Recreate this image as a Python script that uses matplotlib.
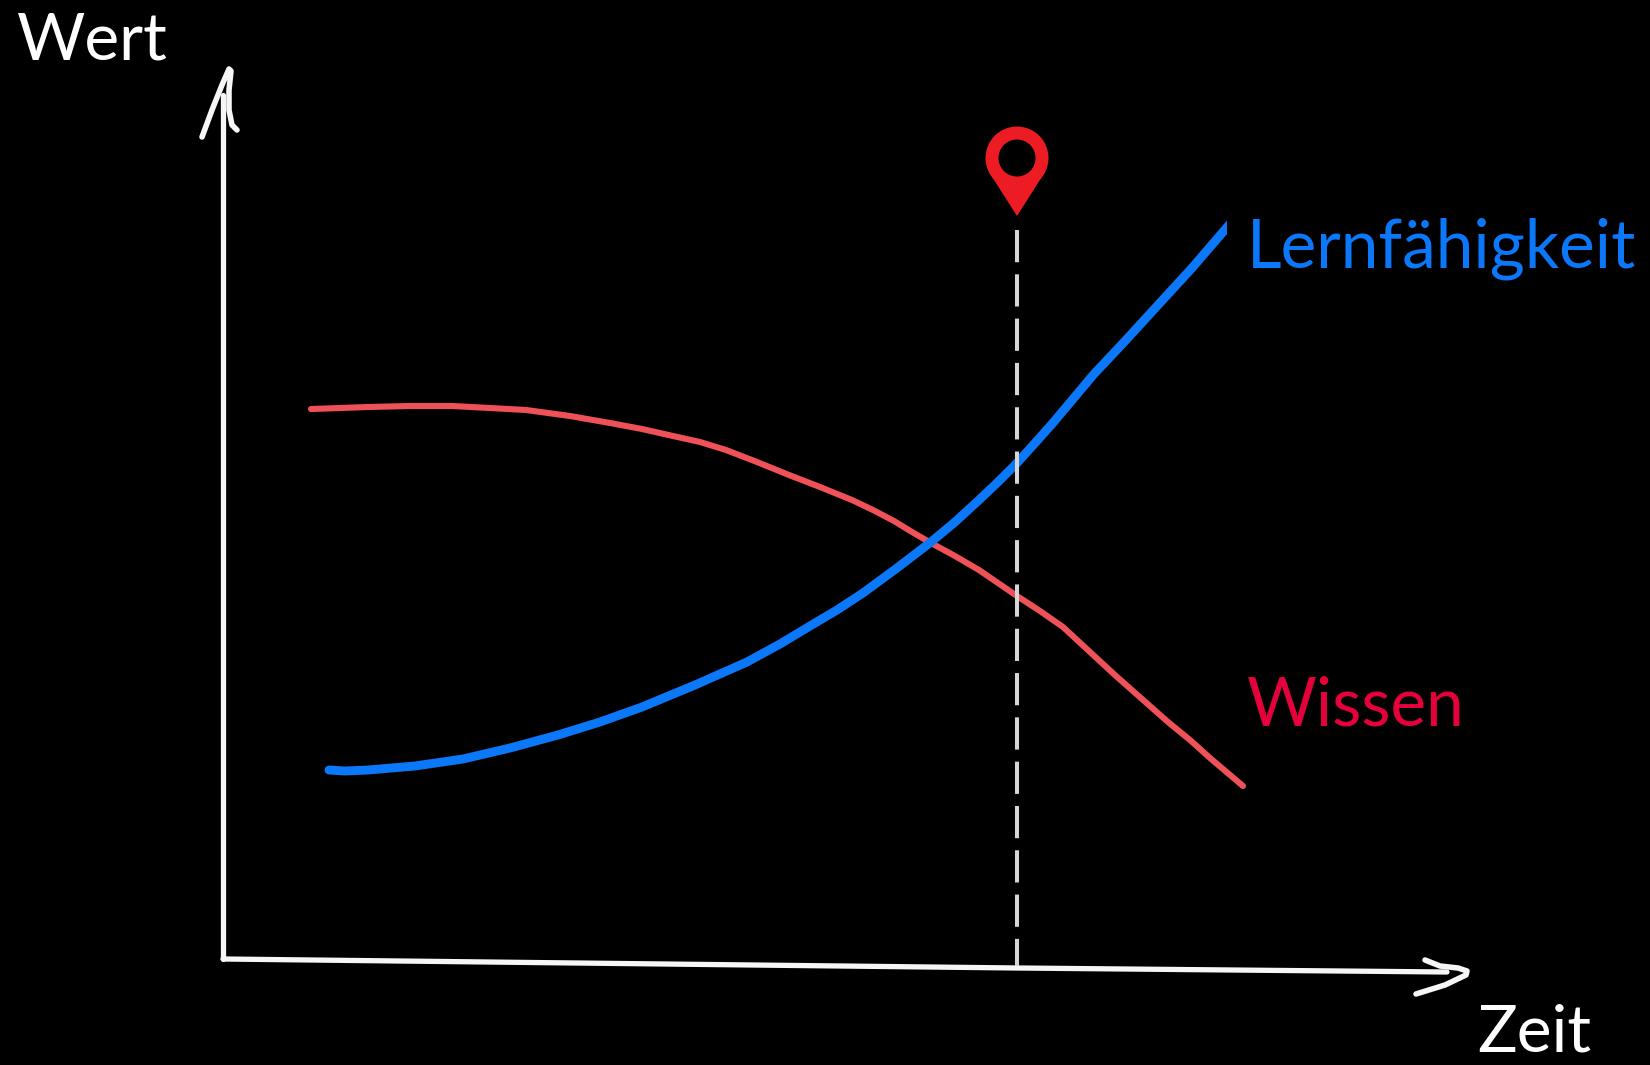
"""Wert / Zeit sketch: Wissen vs. Lernfaehigkeit, on black."""
import matplotlib
matplotlib.use("Agg")
import matplotlib.pyplot as plt
from matplotlib.patches import Circle, Polygon, Rectangle

WIDTH, HEIGHT = 1650, 1065

# curves (canvas pixels)
wissen_x = [311, 340, 368, 410, 452, 490, 526, 570, 610, 642, 673, 700, 726, 757, 789, 820, 852,
            873, 894, 912, 931, 955, 979, 998, 1017, 1040, 1063, 1090, 1116, 1142, 1168, 1190, 1210, 1243]
wissen_y = [409, 408, 407, 406, 406, 408, 410, 416, 423, 429, 436, 442, 450, 462, 475, 487, 500,
            510, 521, 532, 543, 556, 570, 583, 596, 611, 627, 652, 676, 699, 722, 740, 758, 786]
lern_x = [329, 345, 368, 415, 463, 510, 558, 600, 642, 695, 747, 780, 810, 837, 863, 897, 931,
          955, 979, 998, 1017, 1035, 1052, 1073, 1094, 1126, 1158, 1192, 1235]
lern_y = [770, 771, 770, 766, 759, 748, 735, 722, 707, 685, 662, 644, 626, 610, 593, 568, 542,
          522, 500, 482, 463, 443, 424, 399, 374, 340, 305, 268, 218]

# hand drawn axes
y_axis_x = [223, 223]
y_axis_y = [959, 95]
x_axis_x = [223, 1017, 1447]
x_axis_y = [959, 968, 972]
y_head_x = [202, 212, 222, 229, 231, 229, 229, 232, 237]
y_head_y = [137, 110, 85, 69, 71, 90, 110, 125, 130]
x_head_x = [1425, 1440, 1458, 1467, 1466, 1445, 1416]
x_head_y = [960, 966, 968, 971, 975, 985, 994]

marker_x = 1017
marker_y = [230, 966]

BLUE = "#0A78F8"
RED_LINE = "#EE5258"
RED_TEXT = "#E4003A"
PIN_RED = "#ED1C24"
WHITE = "#F6F6F6"
TEXT_SIZE = 47.5
LABEL_SIZE = 48.6


def main():
    plt.rcParams["font.family"] = ["Lato", "DejaVu Sans"]

    fig = plt.figure(figsize=(WIDTH / 100, HEIGHT / 100), dpi=100, facecolor="black")
    ax = fig.add_axes([0, 0, 1, 1])
    ax.set_xlim(0, WIDTH)
    ax.set_ylim(HEIGHT, 0)
    ax.axis("off")

    # axes
    round_line = dict(solid_capstyle="round", solid_joinstyle="round")
    ax.plot(y_axis_x, y_axis_y, color=WHITE, lw=3.8, **round_line)
    ax.plot(x_axis_x, x_axis_y, color=WHITE, lw=3.8, **round_line)
    ax.plot(y_head_x, y_head_y, color=WHITE, lw=4, **round_line)
    ax.plot(x_head_x, x_head_y, color=WHITE, lw=4, **round_line)

    # curves
    ax.plot(wissen_x, wissen_y, color=RED_LINE, lw=4.4, **round_line)
    lern_line, = ax.plot(lern_x, lern_y, color=BLUE, lw=6.4, **round_line)
    # the blue line stops on a straight vertical edge
    lern_line.set_clip_path(Rectangle((0, 0), 1227, HEIGHT, transform=ax.transData))

    # dashed marker above the curves
    ax.plot([marker_x, marker_x], marker_y, color="#D6D6D6", lw=2.9,
            dashes=(8, 3), dash_capstyle="butt")

    # pin
    ax.add_patch(Polygon([(marker_x - 28, 172), (marker_x, 216), (marker_x + 28, 172)],
                         closed=True, color=PIN_RED, lw=0))
    ax.add_patch(Circle((marker_x, 158), 31.5, color=PIN_RED, lw=0))
    ax.add_patch(Circle((marker_x, 158), 18.5, color="black", lw=0))

    # labels
    ax.text(17, 59, "Wert", color="white", fontsize=TEXT_SIZE, va="baseline")
    ax.text(1477, 1052, "Zeit", color="white", fontsize=TEXT_SIZE, va="baseline")
    ax.text(1247, 267, "Lernfähigkeit", color=BLUE, fontsize=LABEL_SIZE, va="baseline")
    ax.text(1247, 726, "Wissen", color=RED_TEXT, fontsize=LABEL_SIZE, va="baseline")

    fig.savefig("out.png", dpi=100, facecolor="black")
    plt.close(fig)


if __name__ == "__main__":
    main()
